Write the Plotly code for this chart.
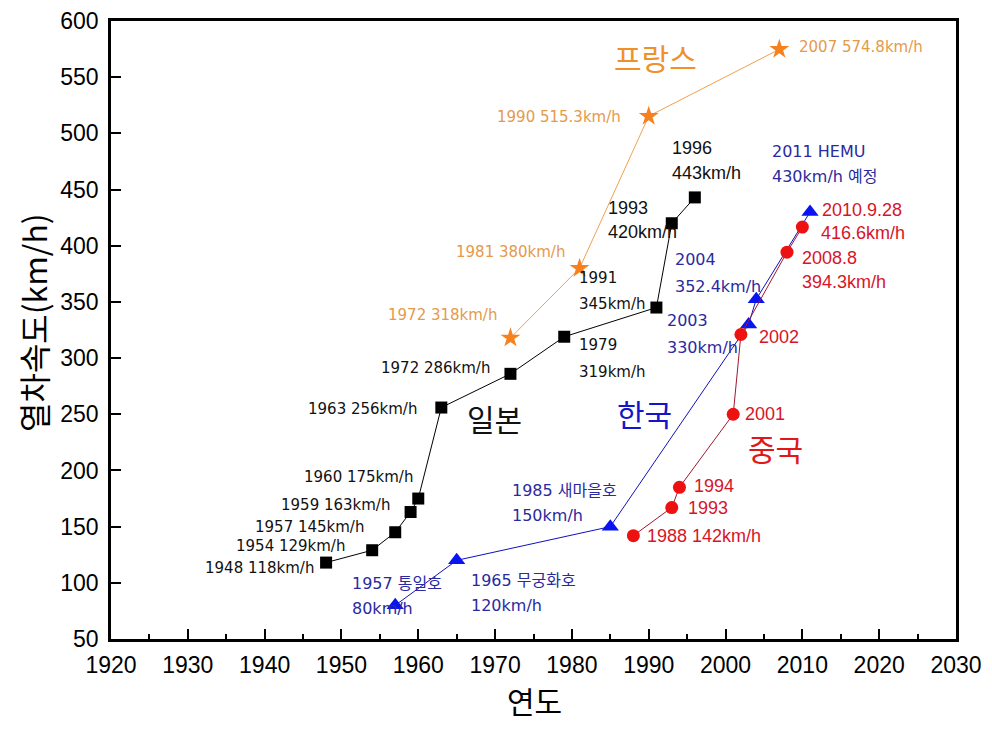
import plotly.graph_objects as go

# ---------------- data ----------------
japan_year = [1948, 1954, 1957, 1959, 1960, 1963, 1972, 1979, 1991, 1993, 1996]
japan_speed = [118, 129, 145, 163, 175, 256, 286, 319, 345, 420, 443]

france_year = [1972, 1981, 1990, 2007]
france_speed = [318, 380, 515.3, 574.8]

korea_year = [1957, 1965, 1985, 2003, 2004, 2011]
korea_speed = [80, 120, 150, 330, 352.4, 430]

china_year = [1988, 1993, 1994, 2001, 2002, 2008, 2010]
china_speed = [142, 167, 185, 250, 321, 394.3, 416.6]

x_ticks = list(range(1920, 2031, 10))
y_ticks = list(range(50, 601, 50))

# ---------------- layout helpers ----------------
OFF = 8                   # page body margin of the html page
W, H = 992 - 2 * OFF, 732 - 2 * OFF
PX0, PX1 = 111, 956       # plot area left/right (page pixels)
PY_TOP, PY_BOT = 21, 639  # plot area top/bottom (page pixels)
X0, X1 = 1920, 2030
Y0, Y1 = 50, 600


def dx(px):
    return X0 + (px - PX0) * (X1 - X0) / (PX1 - PX0)


def dy(py):
    return Y0 + (PY_BOT - py) * (Y1 - Y0) / (PY_BOT - PY_TOP)


THIN = "DejaVu Sans, Noto Sans CJK KR"
ARIAL = "Liberation Sans, Arial, Noto Sans CJK KR"
KR = "Noto Sans CJK KR"

BLACK = "#111111"
ORANGE_T = "#e49a4c"
ORANGE_M = "#f5821f"
BLUE_T = "#2a2aa0"
BLUE_M = "#0a14f0"
RED_T = "#d81428"
RED_M = "#ee1111"

fig = go.Figure()

fig.add_trace(go.Scatter(x=france_year, y=france_speed, mode="lines+markers",
                         line=dict(color="#f0a050", width=1),
                         marker=dict(symbol="star", size=15, color=ORANGE_M)))
fig.add_trace(go.Scatter(x=japan_year, y=japan_speed, mode="lines+markers",
                         line=dict(color="#000000", width=1),
                         marker=dict(symbol="square", size=12, color="#000000")))
fig.add_trace(go.Scatter(x=korea_year, y=korea_speed, mode="lines+markers",
                         line=dict(color="#1010c0", width=1),
                         marker=dict(symbol="triangle-up", size=15, color=BLUE_M)))
fig.add_trace(go.Scatter(x=china_year, y=china_speed, mode="lines+markers",
                         line=dict(color="#a01830", width=1),
                         marker=dict(symbol="circle", size=13, color=RED_M)))

# (text, px, py, xanchor, color, size, family)  -- px/py are page pixels
labels = [
    ("프랑스", 655, 57, "center", "#f0902a", 30, KR),
    ("2007 574.8km/h", 797, 47, "left", ORANGE_T, 15, THIN),
    ("1990 515.3km/h", 623, 117, "right", ORANGE_T, 15, THIN),
    ("1981 380km/h", 567, 252, "right", ORANGE_T, 15, THIN),
    ("1972 318km/h", 499, 315, "right", ORANGE_T, 15, THIN),

    ("1996", 670, 148, "left", BLACK, 18, ARIAL),
    ("443km/h", 670, 173, "left", BLACK, 18, ARIAL),
    ("1993", 606, 208, "left", BLACK, 18, ARIAL),
    ("420km/h", 606, 232, "left", BLACK, 18, ARIAL),
    ("1991", 577, 278, "left", BLACK, 15, THIN),
    ("345km/h", 577, 304, "left", BLACK, 15, THIN),
    ("1979", 577, 345, "left", BLACK, 15, THIN),
    ("319km/h", 577, 372, "left", BLACK, 15, THIN),
    ("1972 286km/h", 492, 368, "right", BLACK, 15, THIN),
    ("1963 256km/h", 419, 409, "right", BLACK, 15, THIN),
    ("일본", 494, 418, "center", BLACK, 30, KR),
    ("1960 175km/h", 415, 477, "right", BLACK, 15, THIN),
    ("1959 163km/h", 392, 505, "right", BLACK, 15, THIN),
    ("1957 145km/h", 366, 527, "right", BLACK, 15, THIN),
    ("1954 129km/h", 347, 546, "right", BLACK, 15, THIN),
    ("1948 118km/h", 316, 568, "right", BLACK, 15, THIN),

    ("1957 통일호", 350, 583, "left", BLUE_T, 16, THIN),
    ("80km/h", 350, 608, "left", BLUE_T, 16, THIN),
    ("1965 무궁화호", 469, 580, "left", BLUE_T, 16, THIN),
    ("120km/h", 469, 605, "left", BLUE_T, 16, THIN),
    ("1985 새마을호", 510, 490, "left", BLUE_T, 16, THIN),
    ("150km/h", 510, 515, "left", BLUE_T, 16, THIN),
    ("한국", 644, 413, "center", "#1414c8", 30, KR),
    ("2003", 665, 320, "left", BLUE_T, 16, THIN),
    ("330km/h", 665, 347, "left", BLUE_T, 16, THIN),
    ("2004", 673, 259, "left", BLUE_T, 16, THIN),
    ("352.4km/h", 673, 286, "left", BLUE_T, 16, THIN),
    ("2011 HEMU", 770, 151, "left", BLUE_T, 16, THIN),
    ("430km/h 예정", 770, 176, "left", BLUE_T, 16, THIN),

    ("중국", 775, 448, "center", "#e01818", 30, KR),
    ("2001", 743, 414, "left", RED_T, 18, ARIAL),
    ("1994", 692, 486, "left", RED_T, 18, ARIAL),
    ("1993", 686, 508, "left", RED_T, 18, ARIAL),
    ("1988 142km/h", 645, 536, "left", RED_T, 18, ARIAL),
    ("2002", 757, 337, "left", RED_T, 18, ARIAL),
    ("2010.9.28", 820, 210, "left", RED_T, 18, ARIAL),
    ("416.6km/h", 819, 233, "left", RED_T, 18, ARIAL),
    ("2008.8", 800, 258, "left", RED_T, 18, ARIAL),
    ("394.3km/h", 800, 282, "left", RED_T, 18, ARIAL),
]

annotations = []
for text, px, py, xa, color, size, fam in labels:
    annotations.append(dict(text=text, x=dx(px), y=dy(py), xref="x", yref="y",
                            xanchor=xa, yanchor="middle", showarrow=False,
                            font=dict(color=color, size=size, family=fam)))

# axis titles as paper annotations
plot_w = PX1 - PX0
plot_h = PY_BOT - PY_TOP
annotations.append(dict(text="열차속도(km/h)", textangle=-90,
                        x=(33 - PX0) / plot_w, y=(PY_BOT - 323) / plot_h,
                        xref="paper", yref="paper", xanchor="center", yanchor="middle",
                        showarrow=False, font=dict(color="#000000", size=32, family=KR)))
annotations.append(dict(text="연도",
                        x=(534 - PX0) / plot_w, y=(PY_BOT - 700) / plot_h,
                        xref="paper", yref="paper", xanchor="center", yanchor="middle",
                        showarrow=False, font=dict(color="#000000", size=30, family=KR)))

fig.update_layout(
    width=W, height=H,
    margin=dict(l=PX0 - OFF, r=W - (PX1 - OFF), t=PY_TOP - OFF, b=H - (PY_BOT - OFF),
                autoexpand=False),
    paper_bgcolor="white", plot_bgcolor="white",
    showlegend=False,
    annotations=annotations,
    xaxis=dict(range=[X0, X1], tickvals=x_ticks, ticks="inside", ticklen=10,
               tickwidth=2, tickcolor="black", showgrid=False, zeroline=False,
               showline=True, linewidth=2.5, linecolor="black", mirror=True,
               ticklabelstandoff=4,
               minor=dict(dtick=5, tick0=1920, ticks="inside", ticklen=5,
                          tickwidth=2, tickcolor="black", showgrid=False),
               tickfont=dict(family="Liberation Sans, Arial", size=23, color="black")),
    yaxis=dict(range=[Y0, Y1], tickvals=y_ticks, ticks="inside", ticklen=10,
               tickwidth=2, tickcolor="black", showgrid=False, zeroline=False,
               showline=True, linewidth=2.5, linecolor="black", mirror=True,
               ticklabelstandoff=5,
               tickfont=dict(family="Liberation Sans, Arial", size=23, color="black")),
)

fig.write_html("out.html")
